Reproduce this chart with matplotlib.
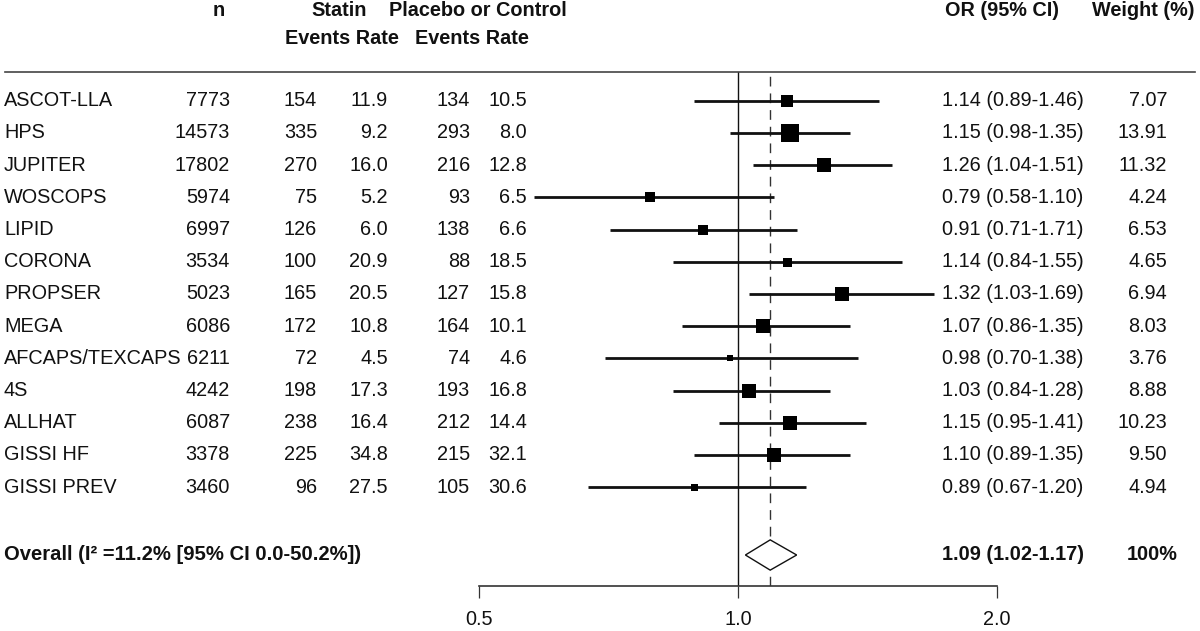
import numpy as np
import matplotlib
matplotlib.use("Agg")
import matplotlib.pyplot as plt
from matplotlib import transforms

plt.rcParams['font.family'] = ['Liberation Sans', 'DejaVu Sans']

# study level data
studies = ['ASCOT-LLA', 'HPS', 'JUPITER', 'WOSCOPS', 'LIPID', 'CORONA', 'PROPSER',
           'MEGA', 'AFCAPS/TEXCAPS', '4S', 'ALLHAT', 'GISSI HF', 'GISSI PREV']
n_total = [7773, 14573, 17802, 5974, 6997, 3534, 5023, 6086, 6211, 4242, 6087, 3378, 3460]
statin_events = [154, 335, 270, 75, 126, 100, 165, 172, 72, 198, 238, 225, 96]
statin_rate = [11.9, 9.2, 16.0, 5.2, 6.0, 20.9, 20.5, 10.8, 4.5, 17.3, 16.4, 34.8, 27.5]
ctrl_events = [134, 293, 216, 93, 138, 88, 127, 164, 74, 193, 212, 215, 105]
ctrl_rate = [10.5, 8.0, 12.8, 6.5, 6.6, 18.5, 15.8, 10.1, 4.6, 16.8, 14.4, 32.1, 30.6]
odds_ratio = [1.14, 1.15, 1.26, 0.79, 0.91, 1.14, 1.32, 1.07, 0.98, 1.03, 1.15, 1.10, 0.89]
ci_low = [0.89, 0.98, 1.04, 0.58, 0.71, 0.84, 1.03, 0.86, 0.70, 0.84, 0.95, 0.89, 0.67]
ci_high = [1.46, 1.35, 1.51, 1.10, 1.17, 1.55, 1.69, 1.35, 1.38, 1.28, 1.41, 1.35, 1.20]
ci_labels = ['1.14 (0.89-1.46)', '1.15 (0.98-1.35)', '1.26 (1.04-1.51)', '0.79 (0.58-1.10)',
             '0.91 (0.71-1.71)', '1.14 (0.84-1.55)', '1.32 (1.03-1.69)', '1.07 (0.86-1.35)',
             '0.98 (0.70-1.38)', '1.03 (0.84-1.28)', '1.15 (0.95-1.41)', '1.10 (0.89-1.35)',
             '0.89 (0.67-1.20)']
weights = ['7.07', '13.91', '11.32', '4.24', '6.53', '4.65', '6.94', '8.03', '3.76',
           '8.88', '10.23', '9.50', '4.94']

# pooled estimate
overall_or = 1.09
overall_low = 1.02
overall_high = 1.17
overall_label = 'Overall (I\u00b2 =11.2% [95% CI 0.0-50.2%])'
overall_ci_label = '1.09 (1.02-1.17)'
overall_weight = '100%'

x_ticks = [0.5, 1.0, 2.0]
x_tick_labels = ['0.5', '1.0', '2.0']

# box sizes in pixels as drawn in the original
box_px = [12.3, 17.5, 14.3, 10.3, 10.3, 9, 14.3, 14.7, 6.7, 14.7, 14.7, 14.7, 7]

W, H = 1200, 631
fig = plt.figure(figsize=(W / 100, H / 100), dpi=100)

# plot panel: 0.5 .. 2.0 on log scale, top at the header rule, bottom at axis line
px_left, px_right, px_top, px_bottom = 479, 997, 72, 586
ax = fig.add_axes([px_left / W, 1 - px_bottom / H,
                   (px_right - px_left) / W, (px_bottom - px_top) / H])
ax.set_xscale('log', base=2)
ax.set_xlim(0.5, 2.0)

row0, row_step = 100.7, 32.2
ax.set_ylim((px_bottom - row0) / row_step, (px_top - row0) / row_step)
overall_row = (555 - row0) / row_step

rows = np.arange(len(studies))
ink = '#111111'

# reference lines
ax.axvline(1.0, color=ink, lw=1.0, zorder=1)
ax.axvline(overall_or, color='#333333', lw=1.0, ls=(0, (7, 5)), zorder=1)

# confidence intervals and boxes
for i in rows:
    ax.plot([ci_low[i], ci_high[i]], [i, i], color=ink, lw=2.0, zorder=2,
            solid_capstyle='butt')
    ax.plot(odds_ratio[i], i, marker='s', ms=box_px[i] * 0.72, color='black',
            mew=0, zorder=3)

# pooled diamond
half_h = 0.47
ax.fill([overall_low, overall_or, overall_high, overall_or],
        [overall_row, overall_row - half_h, overall_row, overall_row + half_h],
        facecolor='white', edgecolor=ink, lw=1.0, zorder=4)

for s in ['top', 'right', 'left']:
    ax.spines[s].set_visible(False)
ax.spines['bottom'].set_color('#333333')
ax.spines['bottom'].set_linewidth(1.2)
ax.set_yticks([])
ax.set_xticks(x_ticks)
ax.set_xticklabels(x_tick_labels)
ax.xaxis.set_minor_locator(matplotlib.ticker.NullLocator())
ax.tick_params(axis='x', length=8.6, width=0.9, color='#333333', pad=9,
               labelsize=14.3, labelcolor=ink)

# header rule
fig.add_artist(plt.Line2D([5 / W, 1195 / W], [1 - 72 / H, 1 - 72 / H],
                          color='#444444', lw=1.2))

# table text
tr = transforms.blended_transform_factory(fig.transFigure, ax.transData)
fs = 14.3
for i in rows:
    ax.text(4 / W, i, studies[i], transform=tr, ha='left', va='center', fontsize=fs, color=ink)
    ax.text(230 / W, i, str(n_total[i]), transform=tr, ha='right', va='center', fontsize=fs, color=ink)
    ax.text(317 / W, i, str(statin_events[i]), transform=tr, ha='right', va='center', fontsize=fs, color=ink)
    ax.text(388 / W, i, f'{statin_rate[i]:.1f}', transform=tr, ha='right', va='center', fontsize=fs, color=ink)
    ax.text(470 / W, i, str(ctrl_events[i]), transform=tr, ha='right', va='center', fontsize=fs, color=ink)
    ax.text(527 / W, i, f'{ctrl_rate[i]:.1f}', transform=tr, ha='right', va='center', fontsize=fs, color=ink)
    ax.text(942 / W, i, ci_labels[i], transform=tr, ha='left', va='center', fontsize=fs, color=ink)
    ax.text(1167 / W, i, weights[i], transform=tr, ha='right', va='center', fontsize=fs, color=ink)

ax.text(4 / W, overall_row, overall_label, transform=tr, ha='left', va='center',
        fontsize=14.6, fontweight='bold', color=ink)
ax.text(942 / W, overall_row, overall_ci_label, transform=tr, ha='left', va='center',
        fontsize=fs, fontweight='bold', color=ink)
ax.text(1178 / W, overall_row, overall_weight, transform=tr, ha='right', va='center',
        fontsize=fs, fontweight='bold', color=ink)

# column headers
hfs = 14.3
def header(x, y, s, ha='center'):
    fig.text(x / W, 1 - y / H, s, ha=ha, va='center', fontsize=hfs, fontweight='bold', color=ink)

header(219, 10, 'n')
header(339, 10, 'Statin')
header(389, 10, 'Placebo or Control', ha='left')
header(342, 39, 'Events Rate')
header(472, 39, 'Events Rate')
header(1002, 10, 'OR (95% CI)')
header(1195, 10, 'Weight (%)', ha='right')

fig.savefig('out.png', dpi=100)
